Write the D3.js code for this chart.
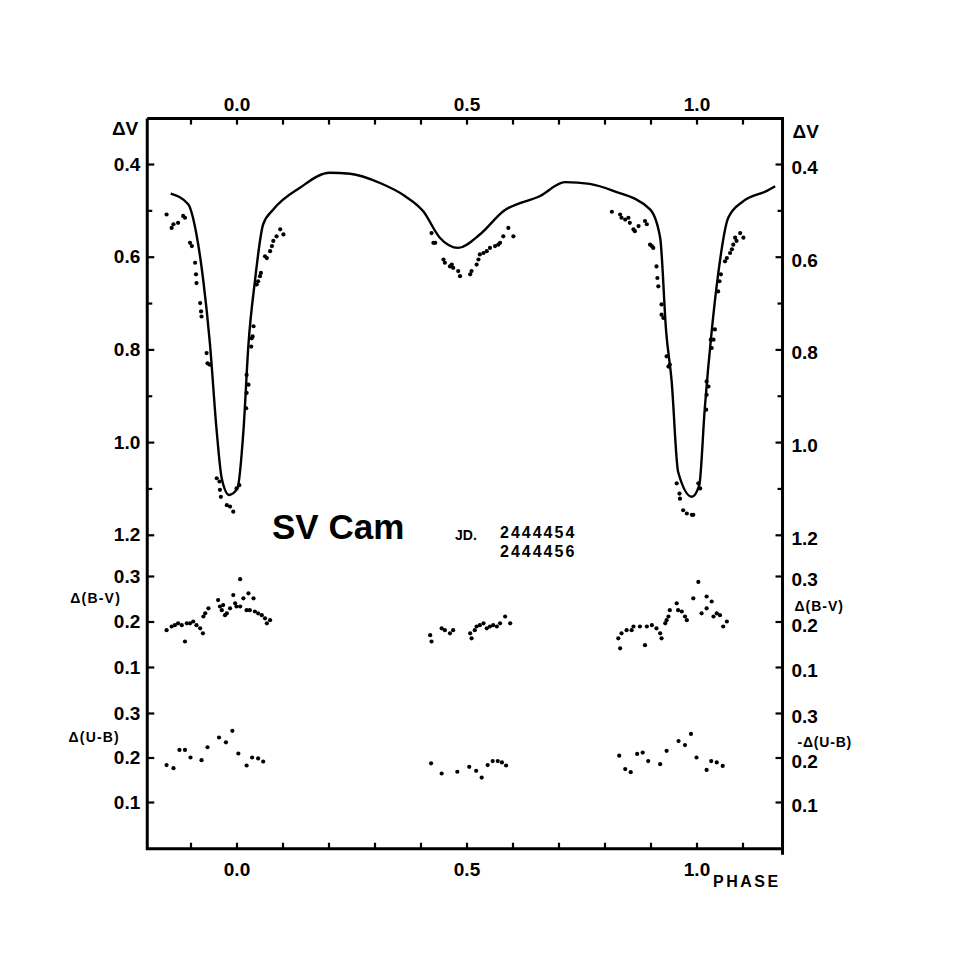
<!DOCTYPE html>
<html><head><meta charset="utf-8">
<script src="https://cdn.jsdelivr.net/npm/d3@7"></script>
<style>body{margin:0;background:#fff}svg{display:block}text{font-family:"Liberation Sans",Arial,sans-serif;font-weight:bold;fill:#000}</style>
</head><body>
<svg id="c" width="973" height="973"></svg>
<script>
// ---- data ----
const phaseTicks = [-0.1,0,0.1,0.2,0.3,0.4,0.5,0.6,0.7,0.8,0.9,1.0,1.1];
const phaseLabels = [0, 0.5, 1.0];
const vTicks = [0.4,0.6,0.8,1.0,1.2];
const vMinorTicks = [0.5,0.7,0.9,1.1];
const colorTicks = [0.1,0.2,0.3];

// theoretical light curve [phase, dV]
const lightCurve = [[-0.143,0.464],[-0.105,0.487],[-0.087,0.552],[-0.072,0.653],[-0.058,0.785],[-0.043,0.977],[-0.032,1.079],[-0.016,1.114],[0.002,1.100],[0.015,0.977],[0.026,0.789],[0.040,0.653],[0.058,0.530],[0.080,0.498],[0.138,0.451],[0.203,0.419],[0.247,0.421],[0.312,0.441],[0.366,0.469],[0.406,0.502],[0.442,0.559],[0.482,0.581],[0.529,0.552],[0.580,0.502],[0.660,0.469],[0.714,0.439],[0.768,0.443],[0.819,0.458],[0.899,0.498],[0.921,0.559],[0.934,0.761],[0.946,0.869],[0.960,1.064],[0.990,1.118],[1.006,1.093],[1.018,0.927],[1.033,0.761],[1.047,0.638],[1.069,0.516],[1.102,0.480],[1.153,0.458],[1.171,0.448]];

// observed dV
const obsV = [[-0.152,0.509],[-0.141,0.538],[-0.137,0.530],[-0.127,0.527],[-0.116,0.512],[-0.112,0.516],[-0.101,0.570],[-0.097,0.577],[-0.090,0.613],[-0.088,0.638],[-0.087,0.657],[-0.079,0.700],[-0.077,0.718],[-0.076,0.729],[-0.065,0.808],[-0.063,0.830],[-0.058,0.833],[-0.043,1.078],[-0.037,1.085],[-0.036,1.103],[-0.034,1.118],[-0.021,1.136],[-0.014,1.139],[-0.007,1.150],[0.000,1.100],[0.006,1.093],[0.021,0.927],[0.022,0.894],[0.026,0.876],[0.022,0.855],[0.032,0.794],[0.033,0.776],[0.035,0.772],[0.037,0.750],[0.044,0.660],[0.047,0.653],[0.051,0.642],[0.053,0.635],[0.062,0.599],[0.066,0.603],[0.073,0.588],[0.077,0.577],[0.080,0.566],[0.087,0.556],[0.095,0.541],[0.102,0.552],
[0.424,0.549],[0.428,0.570],[0.432,0.570],[0.450,0.606],[0.453,0.613],[0.464,0.621],[0.468,0.617],[0.471,0.624],[0.482,0.631],[0.486,0.642],[0.508,0.638],[0.511,0.631],[0.522,0.617],[0.526,0.606],[0.529,0.595],[0.537,0.592],[0.544,0.588],[0.551,0.581],[0.562,0.577],[0.569,0.574],[0.573,0.570],[0.580,0.556],[0.591,0.538],[0.602,0.556],
[0.816,0.503],[0.834,0.509],[0.837,0.516],[0.845,0.520],[0.852,0.516],[0.855,0.527],[0.863,0.541],[0.866,0.545],[0.874,0.534],[0.888,0.523],[0.892,0.530],[0.899,0.574],[0.903,0.577],[0.906,0.581],[0.913,0.621],[0.915,0.646],[0.917,0.664],[0.924,0.703],[0.924,0.725],[0.928,0.732],[0.935,0.815],[0.939,0.837],[0.942,0.833],[0.957,1.089],[0.963,1.111],[0.964,1.122],[0.971,1.147],[0.979,1.154],[0.990,1.157],[0.993,1.157],[1.004,1.089],[1.008,1.100],[1.021,0.930],[1.022,0.898],[1.026,0.880],[1.022,0.869],[1.031,0.779],[1.033,0.797],[1.037,0.779],[1.040,0.757],[1.047,0.675],[1.050,0.653],[1.053,0.638],[1.062,0.610],[1.066,0.603],[1.073,0.592],[1.077,0.584],[1.080,0.574],[1.084,0.559],[1.087,0.566],[1.095,0.549],[1.102,0.559]];

// observed d(B-V)
const obsBV = [[-0.152,0.181],[-0.141,0.189],[-0.134,0.192],[-0.127,0.196],[-0.119,0.192],[-0.112,0.156],[-0.108,0.196],[-0.101,0.196],[-0.094,0.200],[-0.087,0.192],[-0.079,0.185],[-0.073,0.174],[-0.072,0.211],[-0.068,0.218],[-0.061,0.229],[-0.040,0.247],[-0.036,0.233],[-0.032,0.225],[-0.029,0.236],[-0.025,0.214],[-0.021,0.218],[-0.014,0.229],[-0.007,0.258],[-0.003,0.240],[0.000,0.233],[0.008,0.233],[0.008,0.293],[0.015,0.251],[0.022,0.225],[0.026,0.262],[0.029,0.225],[0.037,0.251],[0.040,0.222],[0.047,0.218],[0.055,0.214],[0.062,0.207],[0.066,0.196],[0.073,0.203],
[0.421,0.170],[0.424,0.156],[0.446,0.185],[0.453,0.181],[0.464,0.174],[0.471,0.181],[0.508,0.174],[0.511,0.163],[0.518,0.181],[0.522,0.189],[0.529,0.192],[0.537,0.196],[0.544,0.185],[0.551,0.189],[0.558,0.192],[0.566,0.189],[0.573,0.196],[0.584,0.211],[0.595,0.196],
[0.830,0.163],[0.834,0.141],[0.837,0.174],[0.848,0.181],[0.859,0.181],[0.863,0.189],[0.877,0.189],[0.888,0.148],[0.892,0.189],[0.903,0.192],[0.913,0.185],[0.921,0.174],[0.924,0.163],[0.932,0.196],[0.935,0.203],[0.939,0.211],[0.942,0.225],[0.957,0.240],[0.960,0.225],[0.968,0.222],[0.975,0.211],[0.979,0.203],[0.993,0.251],[1.004,0.287],[1.011,0.218],[1.022,0.255],[1.022,0.229],[1.033,0.244],[1.037,0.211],[1.044,0.218],[1.051,0.214],[1.058,0.189],[1.066,0.200]];

// observed d(U-B)
const obsUB = [[-0.152,0.183],[-0.137,0.176],[-0.124,0.217],[-0.112,0.217],[-0.100,0.200],[-0.076,0.194],[-0.063,0.223],[-0.038,0.245],[-0.023,0.234],[-0.009,0.260],[0.004,0.209],[0.022,0.182],[0.034,0.200],[0.047,0.198],[0.058,0.191],
[0.423,0.187],[0.446,0.164],[0.480,0.168],[0.506,0.179],[0.521,0.170],[0.533,0.155],[0.546,0.183],[0.557,0.192],[0.568,0.192],[0.577,0.189],[0.586,0.182],
[0.832,0.204],[0.845,0.174],[0.857,0.167],[0.871,0.208],[0.883,0.211],[0.895,0.192],[0.921,0.185],[0.935,0.215],[0.961,0.237],[0.975,0.228],[0.988,0.253],[1.000,0.200],[1.022,0.172],[1.032,0.192],[1.044,0.189],[1.057,0.181]];

const titleText = "SV Cam";
const jdLabel = "JD.";
const jdDates = ["2444454","2444456"];

// ---- scales ----
const svg = d3.select("#c");
const x = d3.scaleLinear().domain([0,1]).range([236.5,696.5]);
const yV = d3.scaleLinear().domain([0.4,1.2]).range([164,534.8]);
const yBV = d3.scaleLinear().domain([0.1,0.3]).range([667,576]);
const yUB = d3.scaleLinear().domain([0.1,0.3]).range([802,713]);

const xL = x(-0.194), xR = x(1.187);
const yTop = yV(0.302), yBot = yUB(-0.005);

// frame
svg.append("path")
  .attr("d", `M${xL},${yTop}H${xR}V${yBot+6}M${xR},${yBot}H${xL}V${yTop}`)
  .attr("fill","none").attr("stroke","#000").attr("stroke-width",3);

function styleAxis(g){ g.select(".domain").remove(); g.selectAll(".tick line").attr("stroke","#000").attr("stroke-width",2.2); g.selectAll("text").attr("font-size",19).attr("font-family",null).attr("fill","#000"); }

const fmt = d => d3.format(".1f")(d);
// top axis
svg.append("g").attr("transform",`translate(0,${yTop})`)
  .call(d3.axisTop(x).tickValues(phaseTicks).tickSize(-6).tickSizeOuter(0).tickPadding(8).tickFormat(d => phaseLabels.some(p=>Math.abs(p-d)<1e-6) ? fmt(d) : ""))
  .call(styleAxis);
// bottom axis
svg.append("g").attr("transform",`translate(0,${yBot})`)
  .call(d3.axisBottom(x).tickValues(phaseTicks).tickSize(-6).tickSizeOuter(0).tickPadding(14).tickFormat(d => phaseLabels.some(p=>Math.abs(p-d)<1e-6) ? fmt(d) : ""))
  .call(styleAxis);

// left & right axes for each panel
function sideAxes(scale, major, minor){
  svg.append("g").attr("transform",`translate(${xL},0)`)
    .call(d3.axisLeft(scale).tickValues(major).tickSize(-7).tickPadding(7).tickFormat(fmt)).call(styleAxis);
  svg.append("g").attr("transform",`translate(${xR},0)`)
    .call(d3.axisRight(scale).tickValues(major).tickSize(-7).tickPadding(9).tickFormat(fmt)).call(styleAxis)
    .selectAll("text").attr("dy","0.5em");
  if(minor){
    svg.append("g").attr("transform",`translate(${xL},0)`)
      .call(d3.axisLeft(scale).tickValues(minor).tickSize(-5).tickFormat("")).call(styleAxis);
    svg.append("g").attr("transform",`translate(${xR},0)`)
      .call(d3.axisRight(scale).tickValues(minor).tickSize(-5).tickFormat("")).call(styleAxis);
  }
}
sideAxes(yV, vTicks, vMinorTicks);
sideAxes(yBV, colorTicks, null);
sideAxes(yUB, colorTicks, null);

// axis titles
const T = (t,xx,yy,size,anchor,ls) => svg.append("text").attr("x",xx).attr("y",yy).attr("font-size",size).attr("text-anchor",anchor||"start").attr("letter-spacing",ls||0).text(t);
T("ΔV", xL-9, 135, 19, "end");
T("ΔV", xR+10, 138, 19, "start");
T("Δ(B-V)", 121, 603, 14, "end", 1.2);
T("Δ(U-B)", 120, 742, 14, "end", 1.2);
T("Δ(B-V)", xR+12, 611, 14, "start", 1.0);
T("-Δ(U-B)", xR+15, 747, 14, "start", 0.8);
T("PHASE", 713, 887, 16, "start", 2.5);

// title
T(titleText, 272, 539, 35, "start", 0);
T(jdLabel, 455, 540, 14, "start", 0);
T(jdDates[0], 500, 538, 16, "start", 2);
T(jdDates[1], 500, 557, 16, "start", 2);

// light curve
svg.append("path").datum(lightCurve)
  .attr("d", d3.line().x(d=>x(d[0])).y(d=>yV(d[1])).curve(d3.curveMonotoneX))
  .attr("fill","none").attr("stroke","#000").attr("stroke-width",2.4).attr("stroke-linejoin","round");

function dots(data, ys){
  svg.append("g").selectAll("circle").data(data).join("circle")
    .attr("cx",d=>x(d[0])).attr("cy",d=>ys(d[1])).attr("r",2.1).attr("fill","#000");
}
dots(obsV, yV);
dots(obsBV, yBV);
dots(obsUB, yUB);
</script>
</body></html>
